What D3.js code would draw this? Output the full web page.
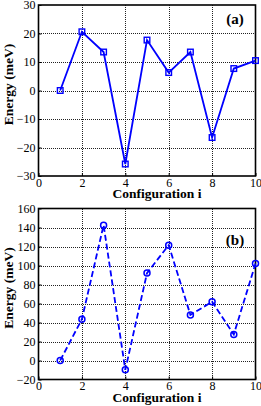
<!DOCTYPE html>
<html>
<head>
<meta charset="utf-8">
<script src="https://cdn.jsdelivr.net/npm/d3@7"></script>
<style>
  body { margin: 0; background: #fff; }
  svg { display: block; }
</style>
</head>
<body>
<div id="chart"></div>
<script>
var w = 261;
var h = 406;
var serif = "'Liberation Serif', 'DejaVu Serif', 'Times New Roman', serif";

// data
var configs = [1, 2, 3, 4, 5, 6, 7, 8, 9, 10];
var energyA = [0, 20.6, 13.5, -25.8, 17.7, 6.3, 13.5, -16.5, 7.7, 10.5];
var energyB = [0, 43.5, 142.5, -9.8, 92, 121.4, 48, 61.8, 27.4, 102];
var xTicks = [0, 2, 4, 6, 8, 10];
var yTicksA = [-30, -20, -10, 0, 10, 20, 30];
var yTicksB = [-20, 0, 20, 40, 60, 80, 100, 120, 140, 160];

var svg = d3.select("div#chart").append("svg")
  .attr("width", w)
  .attr("height", h)
  .attr("font-family", serif);

function px(v) { return Math.round(v) + 0.5; }

function drawPanel(opt) {
  var x = d3.scaleLinear().domain([0, 10]).range([38.5, 255.5]);
  var y = d3.scaleLinear().domain(opt.yDomain).range([opt.bottom, opt.top]);
  var g = svg.append("g");

  // dotted grid, kept on whole pixels so the dots stay crisp
  g.selectAll("line.gx")
    .data(xTicks.slice(1, -1))
    .enter().append("line")
    .attr("class", "gx")
    .attr("x1", function(d) { return px(x(d)); })
    .attr("x2", function(d) { return px(x(d)); })
    .attr("y1", Math.ceil(opt.top))
    .attr("y2", Math.floor(opt.bottom))
    .attr("stroke", "#222")
    .attr("stroke-width", 1)
    .attr("stroke-dasharray", "1,1");
  g.selectAll("line.gy")
    .data(opt.yTicks.slice(1, -1))
    .enter().append("line")
    .attr("class", "gy")
    .attr("x1", Math.ceil(x(0)))
    .attr("x2", Math.floor(x(10)))
    .attr("y1", function(d) { return px(y(d)); })
    .attr("y2", function(d) { return px(y(d)); })
    .attr("stroke", "#222")
    .attr("stroke-width", 1)
    .attr("stroke-dasharray", "1,1");

  // axes with inward ticks
  var xAxis = d3.axisBottom(x).tickValues(xTicks).tickSize(-3).tickPadding(2);
  var yAxis = d3.axisLeft(y).tickValues(opt.yTicks).tickSize(-3).tickPadding(3);
  var gx = g.append("g").attr("transform", "translate(0," + opt.bottom + ")").call(xAxis);
  var gy = g.append("g").attr("transform", "translate(" + x(0) + ",0)").call(yAxis);
  [gx, gy].forEach(function(a) {
    a.attr("font-family", serif).attr("font-size", 12);
    a.select(".domain").remove();
    a.selectAll("line").attr("stroke", "#000");
    a.selectAll("text").attr("fill", "#000");
  });

  // frame
  g.append("rect")
    .attr("x", x(0))
    .attr("y", opt.top)
    .attr("width", x(10) - x(0))
    .attr("height", opt.bottom - opt.top)
    .attr("fill", "none")
    .attr("stroke", "#000")
    .attr("stroke-width", 1.6);

  // series
  var line = d3.line()
    .x(function(d, i) { return x(configs[i]); })
    .y(function(d) { return y(d); });
  g.append("path")
    .datum(opt.values)
    .attr("d", line)
    .attr("fill", "none")
    .attr("stroke", "#0000ff")
    .attr("stroke-width", 1.8)
    .attr("stroke-dasharray", opt.dash);

  if (opt.marker == "square") {
    g.selectAll("rect.m")
      .data(opt.values)
      .enter().append("rect")
      .attr("x", function(d, i) { return x(configs[i]) - 2.8; })
      .attr("y", function(d) { return y(d) - 2.8; })
      .attr("width", 5.6)
      .attr("height", 5.6)
      .attr("fill", "none")
      .attr("stroke", "#0000ff")
      .attr("stroke-width", 1.4);
  } else {
    g.selectAll("circle.m")
      .data(opt.values)
      .enter().append("circle")
      .attr("cx", function(d, i) { return x(configs[i]); })
      .attr("cy", function(d) { return y(d); })
      .attr("r", 3)
      .attr("fill", "none")
      .attr("stroke", "#0000ff")
      .attr("stroke-width", 1.5);
  }

  // labels
  g.append("text")
    .attr("x", 157)
    .attr("y", opt.bottom + 22)
    .attr("text-anchor", "middle")
    .attr("font-size", 13.5)
    .attr("font-weight", "bold")
    .text("Configuration i");
  g.append("text")
    .attr("transform", "translate(12.5," + ((opt.top + opt.bottom) / 2 - 6) + ") rotate(-90)")
    .attr("text-anchor", "middle")
    .attr("font-size", 13.5)
    .attr("font-weight", "bold")
    .text("Energy (meV)");
  g.append("text")
    .attr("x", 235)
    .attr("y", opt.top + opt.tagDy)
    .attr("text-anchor", "middle")
    .attr("font-size", 15)
    .attr("font-weight", "bold")
    .text(opt.tag);
}

drawPanel({ top: 5, bottom: 176, yDomain: [-30, 30], yTicks: yTicksA,
  values: energyA, dash: null, marker: "square", tag: "(a)", tagDy: 19 });
drawPanel({ top: 208.5, bottom: 379.5, yDomain: [-20, 160], yTicks: yTicksB,
  values: energyB, dash: "6,3", marker: "circle", tag: "(b)", tagDy: 36 });
</script>
</body>
</html>
